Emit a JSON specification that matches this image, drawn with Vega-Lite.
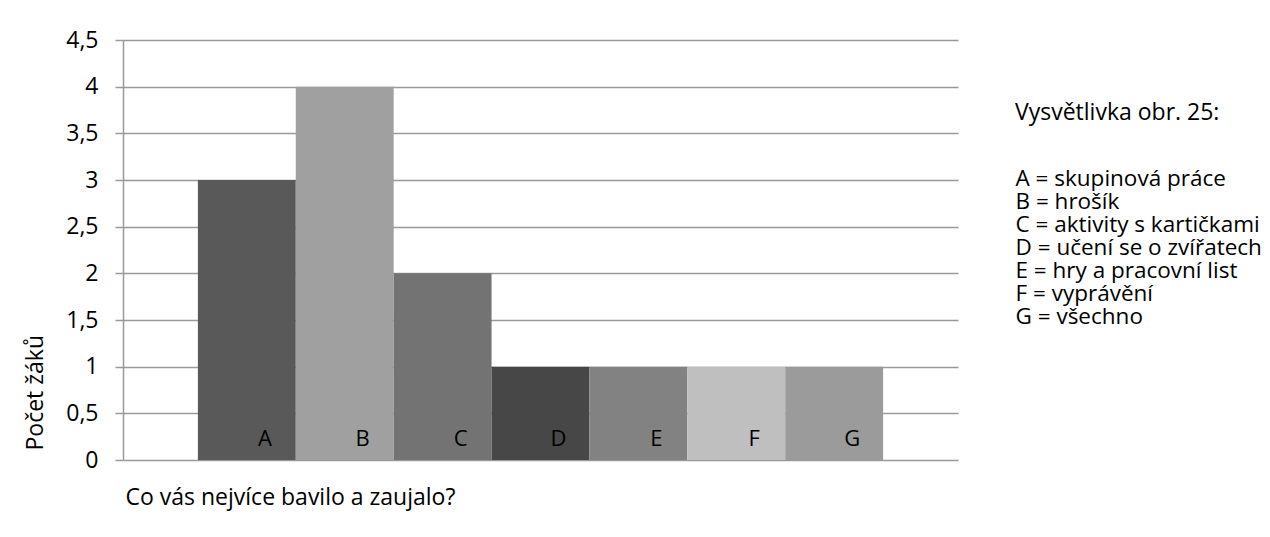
{
  "$schema": "https://vega.github.io/schema/vega-lite/v6.json",
  "autosize": "none",
  "padding": {"left": 123, "top": 40, "right": 312, "bottom": 77},
  "width": 835,
  "height": 420,
  "background": "white",
  "config": {
    "font": "Open Sans",
    "view": {"stroke": null},
    "axis": {
      "labelColor": "black",
      "titleColor": "black",
      "titleFontWeight": "normal",
      "labelFontSize": 23,
      "titleFontSize": 23,
      "titleLimit": 600,
      "gridColor": "#9a9a9a",
      "gridWidth": 1.5,
      "domainColor": "#9a9a9a",
      "domainWidth": 1.5,
      "tickColor": "#9a9a9a",
      "tickWidth": 1.5
    },
    "legend": {
      "labelColor": "black",
      "titleColor": "black",
      "titleFontWeight": "normal"
    }
  },
  "data": {
    "values": [
      {"kategorie": "A", "popis": "A = skupinová práce", "pocet": 3},
      {"kategorie": "B", "popis": "B = hrošík", "pocet": 4},
      {"kategorie": "C", "popis": "C = aktivity s kartičkami", "pocet": 2},
      {"kategorie": "D", "popis": "D = učení se o zvířatech", "pocet": 1},
      {"kategorie": "E", "popis": "E = hry a pracovní list", "pocet": 1},
      {"kategorie": "F", "popis": "F = vyprávění", "pocet": 1},
      {"kategorie": "G", "popis": "G = všechno", "pocet": 1}
    ]
  },
  "layer": [
    {
      "mark": {"type": "bar"},
      "encoding": {
        "x": {
          "field": "kategorie",
          "type": "nominal",
          "sort": null,
          "scale": {"paddingInner": 0, "paddingOuter": 0.765},
          "axis": {
            "title": "Co vás nejvíce bavilo a zaujalo?",
            "labels": false,
            "ticks": false,
            "domain": false,
            "titleX": 2,
            "titleY": 37,
            "titleAlign": "left",
            "titleBaseline": "middle"
          }
        },
        "y": {
          "field": "pocet",
          "type": "quantitative",
          "scale": {"domain": [0, 4.5], "nice": false},
          "axis": {
            "values": [0, 0.5, 1, 1.5, 2, 2.5, 3, 3.5, 4, 4.5],
            "labelExpr": "replace(format(datum.value, ''), '.', ',')",
            "tickSize": 8,
            "labelPadding": 17,
            "title": "Počet žáků",
            "titleX": -88,
            "titleY": 410,
            "titleAlign": "left",
            "titleBaseline": "middle"
          }
        },
        "color": {
          "field": "popis",
          "type": "nominal",
          "scale": {
            "domain": ["A = skupinová práce", "B = hrošík", "C = aktivity s kartičkami", "D = učení se o zvířatech", "E = hry a pracovní list", "F = vyprávění", "G = všechno"],
            "range": ["#595959", "#a0a0a0", "#737373", "#474747", "#828282", "#bfbfbf", "#9b9b9b"]
          },
          "legend": {
            "title": "Vysvětlivka obr. 25:",
            "orient": "none",
            "legendX": 892,
            "legendY": 62,
            "titleFontSize": 23,
            "labelFontSize": 22.5,
            "titleLimit": 400,
            "titlePadding": 43,
            "rowPadding": 0,
            "symbolSize": 0,
            "symbolStrokeWidth": 0,
            "symbolOpacity": 0,
            "labelOffset": -22,
            "labelLimit": 400,
            "padding": 0
          }
        }
      }
    },
    {
      "mark": {"type": "text", "dx": 18, "dy": -14, "baseline": "alphabetic", "fontSize": 22, "color": "black"},
      "encoding": {
        "x": {"field": "kategorie", "type": "nominal", "sort": null},
        "y": {"datum": 0, "type": "quantitative"},
        "text": {"field": "kategorie"}
      }
    }
  ]
}
